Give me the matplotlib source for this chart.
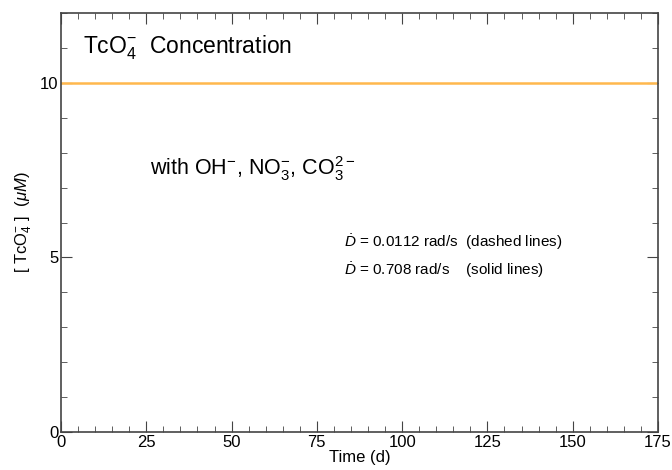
import matplotlib
matplotlib.use("Agg")
from matplotlib import pyplot as plt
from matplotlib.ticker import MultipleLocator

plt.rcParams['font.family'] = ['Liberation Sans', 'DejaVu Sans']
plt.rcParams['mathtext.fontset'] = 'custom'
plt.rcParams['mathtext.rm'] = 'Liberation Sans'
plt.rcParams['mathtext.it'] = 'Liberation Sans:italic'

# TcO4- concentration over time (no loss within 175 d)
time_d = [0, 175]
tco4_uM = [10, 10]

x_ticks = [0, 25, 50, 75, 100, 125, 150, 175]
y_ticks = [0, 5, 10]

fig = plt.figure(figsize=(6.72, 4.70), dpi=100)
ax = fig.add_axes([61/672, 38/470, 597/672, 419/470])

ax.plot(time_d, tco4_uM, color='#ffb84d', lw=1.8)

ax.set_xlim(0, 175)
ax.set_ylim(0, 12)
ax.set_xticks(x_ticks)
ax.set_yticks(y_ticks)
ax.xaxis.set_minor_locator(MultipleLocator(5))
ax.yaxis.set_minor_locator(MultipleLocator(1))
ax.tick_params(which='both', direction='in', top=True, right=True,
               color='#444444', labelsize=12, pad=2)
ax.tick_params(which='major', length=8)
ax.tick_params(which='minor', length=4)
for s in ax.spines.values():
    s.set_color('#444444')
    s.set_linewidth(1.2)

ax.set_xlabel('Time (d)', fontsize=12, labelpad=0)
ax.set_ylabel(r'[ TcO$_4^{-}$ ]  ($\mu M$)', fontsize=12, labelpad=4)

ax.text(6.5, 11.0, r'TcO$_4^{-}$  Concentration', fontsize=16.5, va='center')
ax.text(26, 7.55, r'with OH$^{-}$, NO$_3^{-}$, CO$_3^{2-}$', fontsize=15.5, va='center')
ax.text(83, 5.43, r'$\dot{D}$ = 0.0112 rad/s  (dashed lines)', fontsize=11, va='center')
ax.text(83, 4.63, r'$\dot{D}$ = 0.708 rad/s    (solid lines)', fontsize=11, va='center')

fig.savefig('out.png', dpi=100)
